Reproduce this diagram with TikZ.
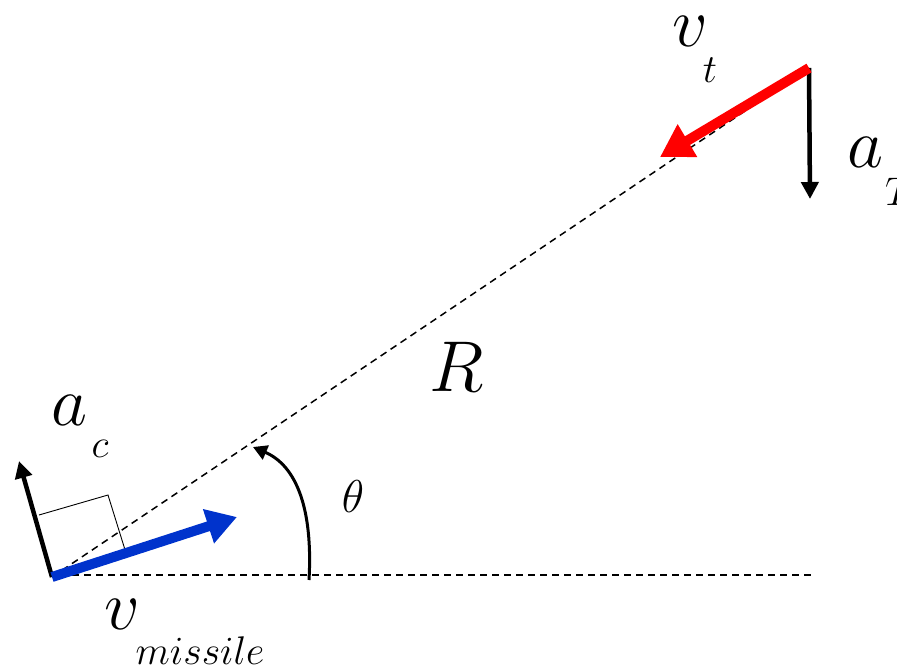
\RequirePackage{fix-cm}
\documentclass[tikz,border=0pt]{standalone}
\usetikzlibrary{arrows.meta}
\definecolor{vred}{RGB}{255,0,0}
\definecolor{vblue}{RGB}{0,51,204}
\tikzset{
  losdash/.style={line width=1.5pt, dash pattern=on 7pt off 5pt},
  bigsym/.style={inner sep=0pt, font=\fontsize{70}{80}\selectfont},
  subsym/.style={inner sep=0pt, font=\fontsize{40}{46}\selectfont},
  accarrow/.style={line width=4.5pt, -{Triangle[length=17pt,width=17pt]}},
}
\begin{document}
\begin{tikzpicture}[x=1pt,y=-1pt]
\useasboundingbox (0,0) rectangle (897,672);
% key points
\coordinate (M) at (52,577);
\coordinate (T) at (809,68);
\coordinate (Hs) at (72,575);
\coordinate (He) at (815,575);
\coordinate (VMtip) at (237,517);
\coordinate (VTtip) at (660,157);
\coordinate (ACtip) at (19,461);
\coordinate (ATtip) at (810,199);
\coordinate (Q1) at (39,515);
\coordinate (Q2) at (108,495);
\coordinate (Q3) at (126,553);
\coordinate (ThS) at (309,580);
\coordinate (ThE) at (253,447);
% dashed lines
\draw[losdash] (M) -- (T);
\draw[losdash] (Hs) -- (He);
% right-angle mark
\draw[line width=0.9pt] (Q1) -- (Q2) -- (Q3);
% acceleration arrows
\draw[accarrow] (M) -- (ACtip);
\draw[accarrow] (T) -- (ATtip);
% velocity arrows
\draw[vblue, line width=10pt, -{Triangle[length=30pt,width=34pt]}] (M) -- (VMtip);
\draw[vred, line width=10pt, -{Triangle[length=32pt,width=36pt]}] (T) -- (VTtip);
% angle arc
\draw[line width=3pt, -{Triangle[length=14pt,width=15pt]}] (ThS) .. controls (313,510) and (297,466) .. (ThE);
% labels
\node[bigsym] (ac) at (69,410) {$a$};
\node[subsym] (acs) at (100,449) {$c$};
\node[bigsym] (vm) at (122,614) {$v$};
\node[subsym, anchor=base] (vms) at (200,664) {$missile$};
\node[bigsym] (vt) at (690,31) {$v$};
\node[subsym] (vts) at (710,70) {$t$};
\node[bigsym] (at) at (865,152) {$a$};
\node[subsym, anchor=west] (ats) at (885,192) {$T$};
\node[inner sep=0pt, font=\fontsize{72}{80}\selectfont] (R) at (457,367) {$R$};
\node[inner sep=0pt, font=\fontsize{46}{52}\selectfont] (th) at (353,497) {$\theta$};
\end{tikzpicture}
\end{document}
